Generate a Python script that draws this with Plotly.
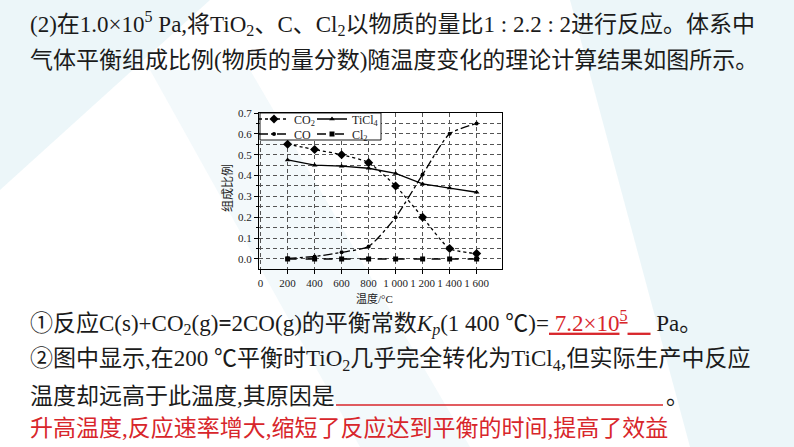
import plotly.graph_objects as go

# ---------------- data ----------------
temps = [200, 400, 600, 800, 1000, 1200, 1400, 1600]
co2 = [0.55, 0.525, 0.50, 0.462, 0.35, 0.20, 0.05, 0.026]
co = [0.003, 0.012, 0.032, 0.060, 0.20, 0.405, 0.60, 0.65]
ticl4 = [0.475, 0.450, 0.445, 0.435, 0.41, 0.36, 0.34, 0.32]
cl2 = [0.0, 0.0, 0.0, 0.0, 0.0, 0.0, 0.0, 0.0]

x_tickvals = [0, 200, 400, 600, 800, 1000, 1200, 1400, 1600]
x_ticktext = ["0", "200", "400", "600", "800", "1 000", "1 200", "1 400", "1 600"]

W, H = 794, 447
SERIF = "Liberation Serif, Times New Roman, Noto Sans CJK SC, serif"
CJK = "Liberation Serif, Noto Sans CJK SC, sans-serif"
RED = "#d8262b"
TXT = "#1b1b1b"


def px(x):
    return x / W


def py(y):
    return 1 - y / H


fig = go.Figure()

fig.add_trace(go.Scatter(
    x=temps, y=co2, name="CO<sub>2</sub>", mode="lines+markers", legend="legend",
    line=dict(color="black", width=1.3, dash="dot", shape="spline", smoothing=0.6),
    marker=dict(symbol="diamond", size=7, color="black")))
fig.add_trace(go.Scatter(
    x=temps, y=ticl4, name="TiCl<sub>4</sub>", mode="lines+markers", legend="legend2",
    line=dict(color="black", width=1.3),
    marker=dict(symbol="triangle-up", size=5, color="black")))
fig.add_trace(go.Scatter(
    x=temps, y=co, name="CO", mode="lines+markers", legend="legend3",
    line=dict(color="black", width=1.3, dash="dashdot", shape="spline", smoothing=0.6),
    marker=dict(symbol="circle", size=4, color="black")))
fig.add_trace(go.Scatter(
    x=temps, y=cl2, name="Cl<sub>2</sub>", mode="lines+markers", legend="legend4",
    line=dict(color="black", width=1.3, dash="dash"),
    marker=dict(symbol="square", size=5, color="black")))

grid = dict(showgrid=True, gridcolor="#555555", gridwidth=0.8, griddash="4px,3px")

fig.update_xaxes(
    domain=[px(259), px(502)], range=[-12, 1788],
    tickmode="array", tickvals=x_tickvals, ticktext=x_ticktext, tickangle=0,
    showline=True, linecolor="black", linewidth=1.2, mirror=True,
    ticks="outside", ticklen=4, tickcolor="black", automargin=False,
    tickfont=dict(family=SERIF, size=11, color=TXT), zeroline=False, **grid)
fig.update_yaxes(
    domain=[py(269), py(113)], range=[-0.048, 0.70],
    tick0=0, dtick=0.1, tickformat=".1f", automargin=False,
    showline=True, linecolor="black", linewidth=1.2, mirror=True,
    ticks="outside", ticklen=4, tickcolor="black",
    tickfont=dict(family=SERIF, size=11, color=TXT), zeroline=False,
    minor=dict(dtick=0.05, showgrid=True, gridcolor="#555555", gridwidth=0.8,
               griddash="4px,3px", ticks="outside", ticklen=2, tickcolor="black"),
    **grid)


# legends (one per entry, to reproduce the compact 2x2 box)
def leg(xp, yp):
    return dict(x=px(xp), y=py(yp), xanchor="left", yanchor="middle",
                bgcolor="rgba(0,0,0,0)", borderwidth=0,
                font=dict(family=SERIF, size=12, color=TXT))


shapes = []
deco = "rgba(200,228,238,0.35)"


def path(pts):
    return "M " + " L ".join(f"{px(a)},{py(b)}" for a, b in pts) + " Z"


shapes.append(dict(type="path", xref="paper", yref="paper", layer="below",
                   path=path([(0, 0), (210, 0), (0, 190)]), fillcolor=deco, line=dict(width=0)))
shapes.append(dict(type="path", xref="paper", yref="paper", layer="below",
                   path=path([(570, 0), (794, 0), (794, 447), (690, 447)]), fillcolor=deco, line=dict(width=0)))
shapes.append(dict(type="path", xref="paper", yref="paper", layer="below",
                   path=path([(150, 70), (250, 70), (470, 447), (360, 447)]),
                   fillcolor="rgba(200,228,238,0.22)", line=dict(width=0)))
# legend box
shapes.append(dict(type="rect", xref="paper", yref="paper", layer="above",
                   x0=px(260), x1=px(381), y0=py(140), y1=py(113),
                   fillcolor="white", line=dict(color="black", width=0.9)))
# answer blank underline (line 3)
shapes.append(dict(type="line", xref="paper", yref="paper",
                   x0=px(336), x1=px(663), y0=py(405), y1=py(405),
                   line=dict(color=RED, width=1.3)))


def ann(text, x, y, size=23, color=TXT, font=CJK, angle=0, xanchor="left"):
    return dict(text=text, x=px(x), y=py(y), xref="paper", yref="paper",
                xanchor=xanchor, yanchor="middle", showarrow=False, textangle=angle,
                font=dict(family=font, size=size, color=color))


nb = "\u00a0"
annotations = [
    ann("(2)在1.0×10<sup>5</sup> Pa,将TiO<sub>2</sub>、C、Cl<sub>2</sub>以物质的量比1 : 2.2 : 2进行反应。体系中", 28, 23),
    ann("气体平衡组成比例(物质的量分数)随温度变化的理论计算结果如图所示。", 28, 60),
    ann("温度/°C", 374, 298, size=11, xanchor="center"),
    ann("组成比例", 228, 188, size=12, angle=-90, xanchor="center"),
    ann("①反应C(s)+CO<sub>2</sub>(g)<b>=</b>2CO(g)的平衡常数<i>K<sub>p</sub></i>(1 400 ℃)="
        + f"<span style='color:{RED}'><u>{nb}7.2×10<sup>5</sup>{nb*4}</u></span>{nb}Pa。", 28, 323),
    ann("②图中显示,在200 ℃平衡时TiO<sub>2</sub>几乎完全转化为TiCl<sub>4</sub>,但实际生产中反应", 28, 360),
    ann("温度却远高于此温度,其原因是", 28, 396),
    ann("。", 664, 396),
    ann("升高温度,反应速率增大,缩短了反应达到平衡的时间,提高了效益", 28, 428, color=RED),
]

fig.update_layout(
    width=W, height=H, margin=dict(l=0, r=0, t=0, b=0, autoexpand=False),
    paper_bgcolor="white", plot_bgcolor="rgba(0,0,0,0)",
    showlegend=True,
    legend=leg(254, 119), legend2=leg(312, 119),
    legend3=leg(254, 134), legend4=leg(312, 134),
    shapes=shapes, annotations=annotations,
)

fig.write_html("out.html", config={"displayModeBar": False})
# remove the browser's default page margin so the figure sits at (0, 0)
with open("out.html", encoding="utf-8") as f:
    html = f.read()
html = html.replace("<head>", "<head><style>html,body{margin:0;padding:0;overflow:hidden;}</style>", 1)
with open("out.html", "w", encoding="utf-8") as f:
    f.write(html)
